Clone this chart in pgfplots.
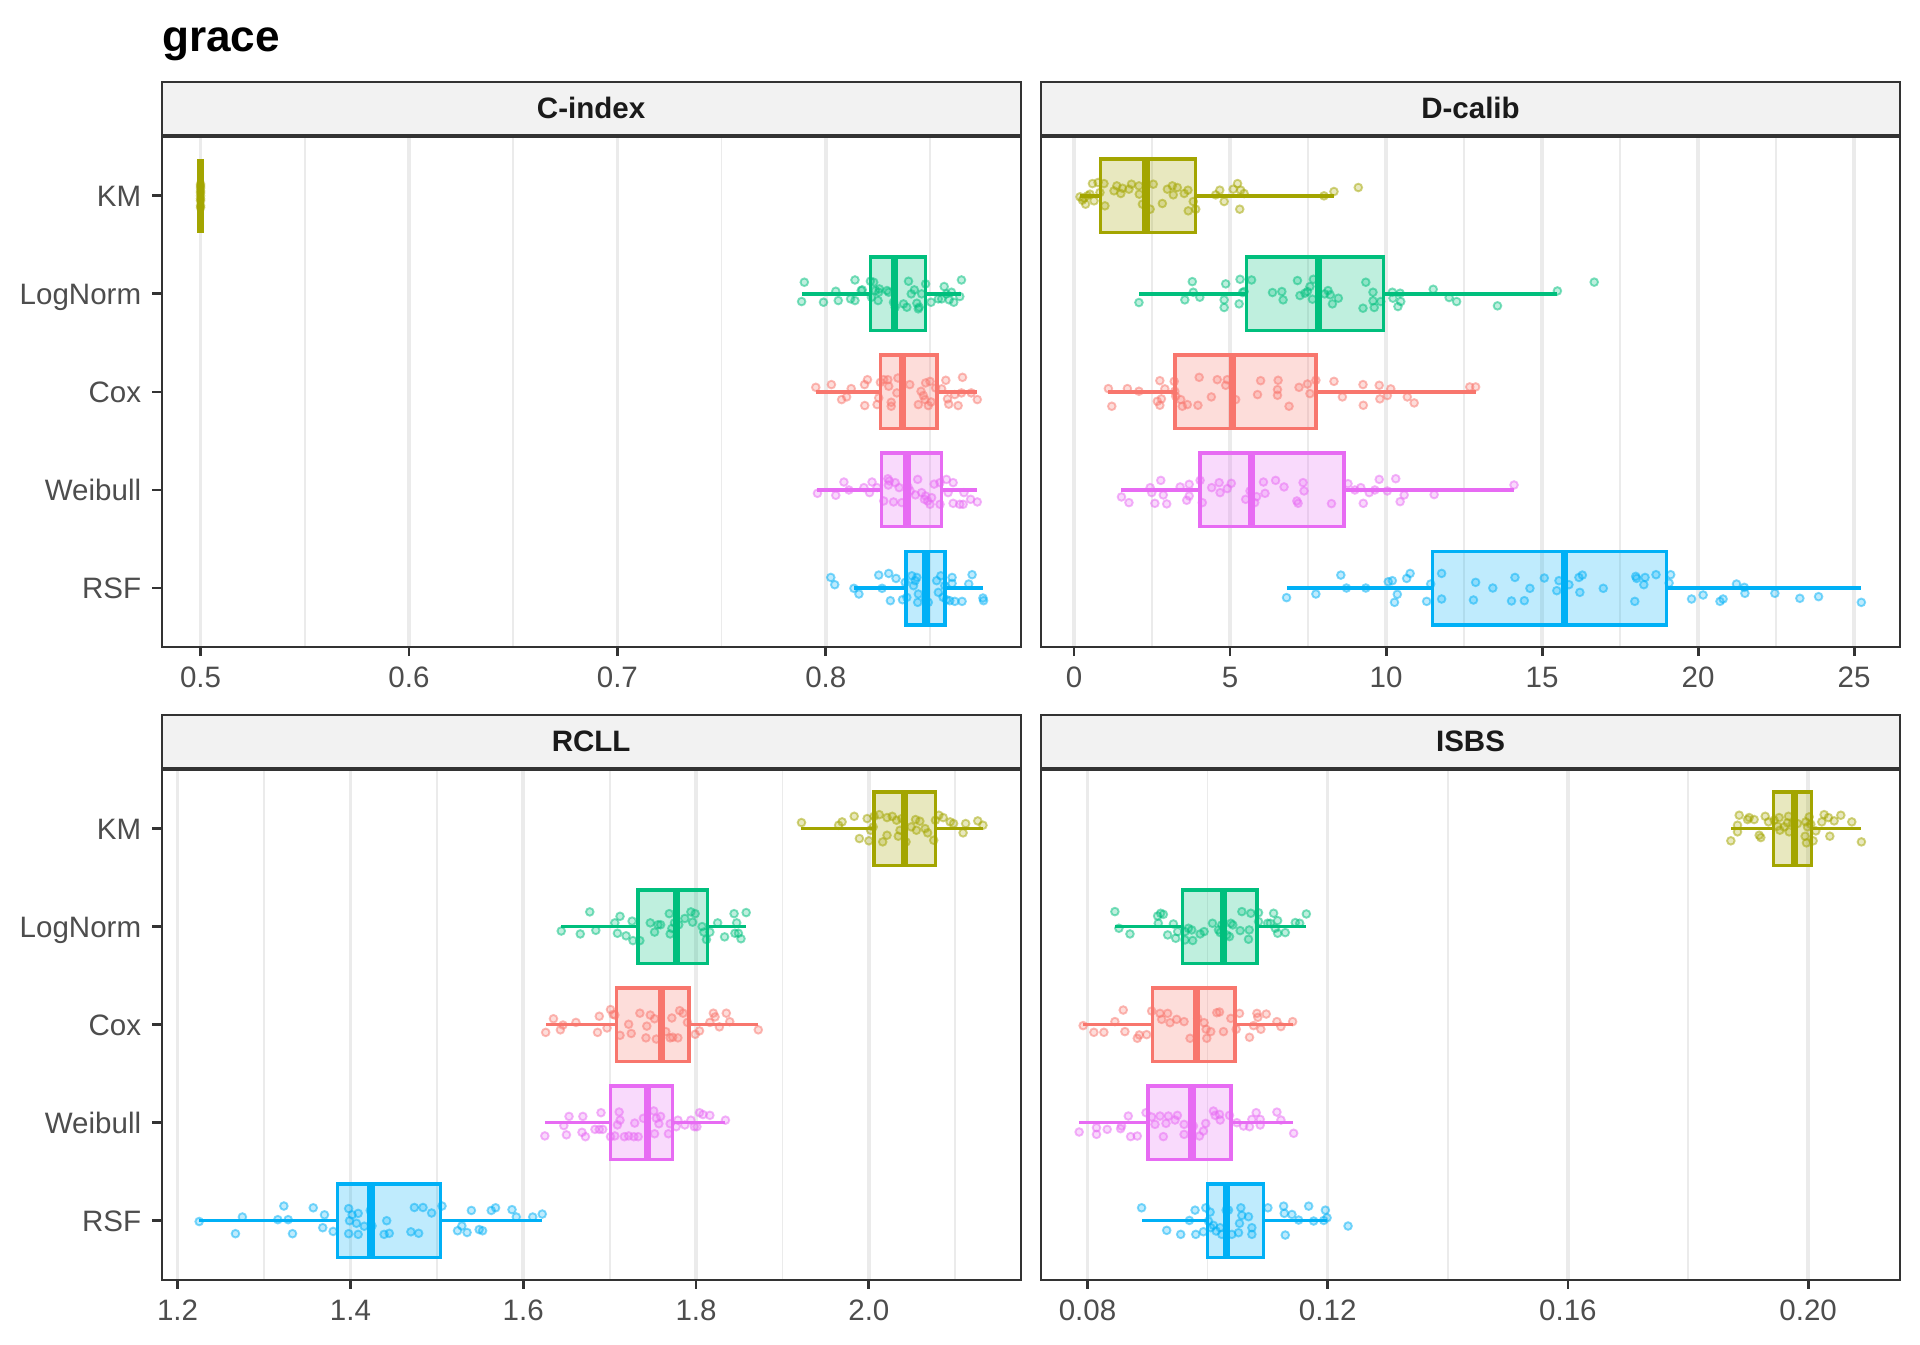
\documentclass[border=0pt]{standalone}
\usepackage{fontspec}
\setmainfont{Liberation Sans}
\usepackage{pgfplots}
\pgfplotsset{compat=1.18}
\usepgfplotslibrary{statistics}
\definecolor{cCox}{HTML}{F8766D}
\definecolor{cKM}{HTML}{A3A500}
\definecolor{cLN}{HTML}{00BF7D}
\definecolor{cRSF}{HTML}{00B0F6}
\definecolor{cWB}{HTML}{E76BF3}
\definecolor{grey10}{HTML}{1A1A1A}
\definecolor{grey20}{HTML}{333333}
\definecolor{grey30}{HTML}{4D4D4D}
\definecolor{grey92}{HTML}{EBEBEB}
\definecolor{stripbg}{HTML}{F2F2F2}
\pgfplotsset{
  panel/.style={scale only axis, width=270.6pt, height=160.6pt, ymin=0.4, ymax=5.6,
    anchor=south west,
    axis line style={draw=grey20, line width=0.6pt},
    tick align=outside, major tick length=2.9pt, minor tick length=0pt,
    tick style={draw=grey20, line width=0.9pt},
    xtick pos=left, ytick pos=left,
    xmajorgrids, xminorgrids, ymajorgrids=false,
    major grid style={draw=grey92, line width=1.1pt},
    minor grid style={draw=grey92, line width=0.55pt},
    tick label style={font=\fontsize{9.3}{11}\selectfont, text=grey30},
    yticklabel style={text height=6.65pt, text depth=0pt},
    /pgf/number format/assume math mode=true},
  leftpanel/.style={panel, ytick={1,2,3,4,5}, yticklabels={RSF,Weibull,Cox,LogNorm,KM}},
  rightpanel/.style={panel, ytick=\empty},
  pts/.style={only marks, mark=*, mark size=1.2pt,
    mark options={draw=#1, fill=#1, draw opacity=0.5, fill opacity=0.25, line width=0.6pt}},
}
\newcommand{\bx}[7]{\addplot[draw=#1, fill=#1, fill opacity=0.25, line width=1.1pt,
  boxplot prepared={lower whisker=#3, lower quartile=#4, median=#5, upper quartile=#6,
  upper whisker=#7, draw position=#2, box extend=0.75, whisker extend=0,
  every median/.style={line width=2.3pt}}] coordinates {};}
\begin{document}
\begin{tikzpicture}
\useasboundingbox (0,0) rectangle (604.8pt,423.36pt);
% ---------------- C-index ----------------
\begin{axis}[leftpanel, at={(50.9pt,219.6pt)}, xmin=0.4813, xmax=0.8935,
  xtick={0.5,0.6,0.7,0.8}, xticklabels={0.5,0.6,0.7,0.8}, minor xtick={0.55,0.65,0.75,0.85}]
\bx{cKM}{5}{0.5}{0.5}{0.5}{0.5}{0.5}
\bx{cLN}{4}{0.7884}{0.8214}{0.8329}{0.8479}{0.8651}
\bx{cCox}{3}{0.7952}{0.8262}{0.8368}{0.8533}{0.8727}
\bx{cWB}{2}{0.7960}{0.8267}{0.8389}{0.8556}{0.8727}
\bx{cRSF}{1}{0.8135}{0.8384}{0.8481}{0.8571}{0.8756}
\addplot[pts=cKM] table {
x y
0.5 5.10
0.5 5.05
0.5 5.00
0.5 4.95
0.5 4.90
0.5 5.12
0.5 4.88
0.5 5.03
0.5 4.97
0.5 5.08
};
\addplot[pts=cLN] table {
x y
0.7897 4.119
0.7884 3.922
0.7989 3.915
0.8048 4.027
0.8060 3.932
0.8119 3.949
0.8140 3.932
0.8140 4.142
0.8170 4.034
0.8175 4.041
0.8214 4.129
0.8219 3.966
0.8230 4.119
0.8238 4.034
0.8251 3.932
0.8254 4.017
0.8257 4.051
0.8294 4.034
0.8302 4.017
0.8325 3.915
0.8333 3.864
0.8373 3.898
0.8389 3.864
0.8397 4.129
0.8410 4.000
0.8425 4.041
0.8437 3.905
0.8444 3.847
0.8448 3.864
0.8460 4.000
0.8479 4.102
0.8505 3.915
0.8540 3.949
0.8556 3.949
0.8568 4.075
0.8579 4.000
0.8592 3.939
0.8603 4.017
0.8614 3.915
0.8643 3.973
0.8651 4.142
};
\addplot[pts=cCox] table {
x y
0.7952 3.047
0.8027 3.075
0.8076 2.922
0.8100 2.949
0.8122 3.034
0.8186 3.075
0.8187 2.861
0.8200 3.125
0.8246 2.871
0.8254 2.939
0.8262 3.098
0.8278 3.125
0.8298 3.125
0.8302 3.058
0.8314 2.895
0.8314 2.854
0.8341 2.990
0.8346 3.142
0.8403 3.075
0.8444 2.871
0.8457 3.007
0.8468 2.963
0.8476 2.922
0.8479 3.092
0.8492 2.861
0.8500 3.108
0.8505 2.898
0.8527 3.041
0.8556 3.031
0.8576 3.119
0.8584 2.929
0.8590 2.875
0.8619 2.973
0.8635 2.861
0.8651 2.990
0.8656 3.149
0.8698 2.990
0.8727 2.922
};
\addplot[pts=cWB] table {
x y
0.7960 1.966
0.8048 1.946
0.8087 2.081
0.8111 2.000
0.8183 2.024
0.8210 1.973
0.8222 2.081
0.8246 2.024
0.8278 1.888
0.8298 2.115
0.8305 2.092
0.8300 2.050
0.8325 1.878
0.8333 2.075
0.8352 2.024
0.8365 1.871
0.8395 2.030
0.8405 1.990
0.8430 1.950
0.8441 2.108
0.8460 1.973
0.8473 1.905
0.8479 1.939
0.8489 1.888
0.8500 1.854
0.8508 1.922
0.8520 2.060
0.8548 1.854
0.8548 2.075
0.8579 2.108
0.8587 1.973
0.8611 2.075
0.8611 1.864
0.8643 1.854
0.8659 1.854
0.8663 1.973
0.8695 1.905
0.8727 1.878
};
\addplot[pts=cRSF] table {
x y
0.8024 1.108
0.8043 1.034
0.8135 0.997
0.8159 0.939
0.8254 1.132
0.8270 0.997
0.8302 1.149
0.8310 0.871
0.8337 1.098
0.8368 0.881
0.8381 1.058
0.8389 0.905
0.8413 1.125
0.8421 1.024
0.8429 1.075
0.8437 1.108
0.8441 0.854
0.8444 0.939
0.8479 0.888
0.8492 0.854
0.8532 1.075
0.8540 0.956
0.8552 1.125
0.8563 0.905
0.8571 1.024
0.8579 0.881
0.8595 0.871
0.8606 1.108
0.8606 1.047
0.8619 0.864
0.8654 0.864
0.8686 1.041
0.8702 1.136
0.8754 0.898
0.8757 0.871
};
\end{axis}
% ---------------- D-calib ----------------
\begin{axis}[rightpanel, at={(327.9pt,219.6pt)}, xmin=-1.06, xmax=26.47,
  xtick={0,5,10,15,20,25}, xticklabels={0,5,10,15,20,25}, minor xtick={2.5,7.5,12.5,17.5,22.5}]
\bx{cKM}{5}{0.19}{0.855}{2.31}{3.90}{8.33}
\bx{cLN}{4}{2.08}{5.53}{7.83}{9.91}{15.49}
\bx{cCox}{3}{1.10}{3.24}{5.07}{7.75}{12.87}
\bx{cWB}{2}{1.52}{4.03}{5.68}{8.65}{14.10}
\bx{cRSF}{1}{6.81}{11.48}{15.71}{18.99}{25.23}
\addplot[pts=cKM] table {
x y
0.19 4.990
0.27 4.956
0.37 4.915
0.32 4.976
0.43 5.000
0.51 5.017
0.59 5.125
0.64 4.949
0.77 5.136
0.83 5.034
0.96 5.125
0.99 4.898
1.28 5.051
1.37 5.102
1.50 5.024
1.55 5.078
1.76 5.068
1.84 5.119
2.08 5.102
2.09 5.017
2.19 4.915
2.44 4.864
2.54 5.119
2.83 4.922
2.99 5.068
3.15 5.102
3.18 5.010
3.31 5.085
3.53 5.024
3.65 5.058
3.66 4.847
3.82 4.942
3.90 4.864
4.54 5.010
4.67 5.058
4.81 4.942
5.10 5.068
5.24 5.125
5.31 4.864
5.34 5.058
5.45 5.024
8.01 5.000
8.33 5.044
9.11 5.085
};
\addplot[pts=cLN] table {
x y
2.08 3.912
3.55 3.939
3.79 4.125
3.82 4.017
4.03 3.966
4.81 3.939
4.81 3.861
4.86 4.102
5.29 3.898
5.32 4.149
5.40 4.014
5.45 4.024
5.69 4.142
6.36 4.014
6.66 4.024
6.70 3.939
7.16 4.136
7.24 3.983
7.40 4.007
7.48 4.024
7.56 4.075
7.64 3.946
7.67 4.149
8.03 4.000
8.14 4.034
8.21 3.990
8.28 3.898
8.47 3.956
9.35 4.119
9.26 3.854
9.58 4.017
9.58 3.929
9.62 3.861
9.83 3.922
10.20 4.017
10.22 3.956
10.38 3.871
10.45 4.007
10.47 3.922
11.51 4.047
12.02 3.963
12.26 3.922
13.57 3.878
15.49 4.030
16.67 4.120
};
\addplot[pts=cCox] table {
x y
1.10 3.034
1.21 2.854
1.71 3.034
2.08 3.007
2.67 2.905
2.75 2.864
2.75 3.115
2.80 2.929
2.91 3.031
3.21 3.108
3.23 3.007
3.26 2.956
3.42 2.922
3.47 2.854
3.63 2.871
3.97 2.864
4.01 3.149
4.40 2.949
4.59 3.125
4.86 3.068
4.91 3.125
5.18 2.922
5.88 2.973
5.98 3.115
6.52 2.966
6.52 3.024
6.54 3.119
6.89 2.854
7.21 3.047
7.48 3.081
7.56 2.983
7.75 3.119
8.33 3.108
8.60 2.949
9.26 3.075
9.27 2.864
9.78 3.068
9.80 2.929
10.04 2.963
10.15 3.031
10.68 2.949
10.90 2.888
12.68 3.051
12.87 3.051
};
\addplot[pts=cWB] table {
x y
1.52 1.929
1.76 1.871
2.44 2.024
2.49 1.973
2.59 1.864
2.78 2.098
2.86 1.949
2.97 1.858
3.40 2.031
3.61 1.895
3.69 2.058
3.69 1.939
4.04 2.098
4.11 1.871
4.41 2.024
4.65 2.075
4.68 1.973
4.91 2.014
5.04 2.068
5.50 1.905
5.64 1.990
5.79 1.871
5.85 1.932
6.07 2.081
6.12 1.966
6.46 2.098
6.73 2.031
7.14 1.888
7.18 1.864
7.34 2.075
7.37 1.990
8.25 1.861
8.78 2.064
9.00 2.000
9.19 2.024
9.27 1.864
9.46 1.973
9.64 2.000
9.78 2.108
10.04 1.990
10.31 2.115
10.45 1.881
10.58 1.949
11.54 1.953
14.10 2.051
};
\addplot[pts=cRSF] table {
x y
6.81 0.902
7.75 0.939
8.55 1.132
8.73 1.000
9.35 1.000
10.07 1.064
10.20 1.075
10.27 0.854
10.36 0.936
10.66 1.098
10.77 1.149
11.30 0.864
11.43 1.041
11.78 1.149
11.78 0.888
12.87 1.058
12.80 0.878
13.42 1.000
14.02 0.868
14.13 1.108
14.43 0.871
14.61 0.997
15.07 1.102
15.47 0.973
15.54 1.075
15.86 1.034
16.18 1.108
16.29 1.132
16.21 0.956
16.96 0.997
17.97 0.864
18.00 1.119
18.03 1.098
18.30 1.108
18.26 1.034
18.65 1.136
19.12 1.136
19.07 1.051
19.79 0.888
20.16 0.929
20.70 0.864
20.80 0.888
21.23 1.041
21.48 1.007
21.50 0.946
22.46 0.946
23.26 0.895
23.86 0.912
25.23 0.854
};
\end{axis}
% ---------------- RCLL ----------------
\begin{axis}[leftpanel, at={(50.9pt,20.3pt)}, xmin=1.1815, xmax=2.1756,
  xtick={1.2,1.4,1.6,1.8,2.0}, xticklabels={1.2,1.4,1.6,1.8,2.0}, minor xtick={1.3,1.5,1.7,1.9,2.1}]
\bx{cKM}{5}{1.922}{2.006}{2.041}{2.077}{2.132}
\bx{cLN}{4}{1.644}{1.733}{1.777}{1.813}{1.858}
\bx{cCox}{3}{1.626}{1.708}{1.760}{1.792}{1.872}
\bx{cWB}{2}{1.625}{1.701}{1.744}{1.773}{1.834}
\bx{cRSF}{1}{1.225}{1.385}{1.424}{1.504}{1.622}
\addplot[pts=cKM] table {
x y
1.922 5.061
1.965 5.034
1.969 5.068
1.983 5.125
1.989 4.898
1.998 5.102
2.000 4.875
2.002 4.983
2.005 5.017
2.006 5.125
2.012 5.142
2.016 4.864
2.021 4.932
2.021 5.112
2.027 5.125
2.032 5.085
2.034 4.922
2.036 4.983
2.038 5.102
2.043 4.864
2.049 5.017
2.054 5.092
2.055 4.983
2.059 5.075
2.065 5.000
2.068 4.956
2.075 4.881
2.077 5.085
2.081 5.136
2.086 5.112
2.094 5.068
2.098 5.051
2.109 4.956
2.112 5.051
2.126 5.078
2.132 5.034
};
\addplot[pts=cLN] table {
x y
1.644 3.955
1.666 3.925
1.677 4.150
1.684 3.962
1.706 4.038
1.709 3.932
1.712 4.105
1.719 3.906
1.726 4.056
1.727 3.857
1.735 3.857
1.747 4.038
1.752 3.944
1.756 4.019
1.759 4.019
1.769 4.132
1.770 3.925
1.772 3.981
1.775 4.038
1.780 4.019
1.787 4.083
1.794 4.150
1.796 4.045
1.799 4.132
1.807 4.000
1.809 3.944
1.812 3.868
1.816 3.944
1.825 4.038
1.833 3.895
1.844 4.132
1.845 3.932
1.847 4.038
1.849 3.932
1.852 3.876
1.858 4.143
};
\addplot[pts=cCox] table {
x y
1.626 2.921
1.635 3.060
1.643 2.947
1.646 2.996
1.661 3.023
1.686 2.921
1.688 3.086
1.697 2.966
1.701 3.154
1.704 3.105
1.706 3.098
1.712 2.891
1.722 3.004
1.725 2.910
1.735 3.117
1.742 2.865
1.743 2.985
1.747 3.098
1.752 3.060
1.754 2.853
1.765 2.929
1.770 2.865
1.773 2.872
1.772 3.068
1.779 2.865
1.781 3.143
1.785 3.117
1.790 3.023
1.799 2.902
1.804 2.936
1.816 3.023
1.820 3.117
1.822 3.079
1.827 2.977
1.835 3.117
1.839 3.030
1.872 2.947
};
\addplot[pts=cWB] table {
x y
1.625 1.865
1.647 1.970
1.650 1.876
1.653 2.064
1.668 1.902
1.669 2.064
1.672 1.857
1.683 1.932
1.688 1.932
1.690 2.102
1.692 1.932
1.701 1.857
1.706 1.865
1.709 1.977
1.711 2.109
1.712 2.026
1.717 1.857
1.722 1.865
1.728 1.857
1.729 1.996
1.733 1.857
1.739 2.045
1.751 2.120
1.752 1.887
1.754 2.045
1.757 1.989
1.759 2.064
1.768 1.887
1.770 1.989
1.777 1.959
1.779 2.026
1.787 1.977
1.794 2.026
1.798 1.959
1.801 1.959
1.804 2.102
1.808 2.083
1.816 2.075
1.834 2.026
};
\addplot[pts=cRSF] table {
x y
1.225 0.992
1.267 0.868
1.275 1.038
1.316 1.011
1.323 1.150
1.328 1.011
1.333 0.868
1.357 1.132
1.368 0.929
1.370 1.060
1.380 0.891
1.398 1.124
1.399 1.000
1.398 0.868
1.402 1.060
1.407 0.974
1.409 0.861
1.409 1.075
1.416 0.944
1.423 1.105
1.425 0.947
1.439 0.861
1.442 1.000
1.445 0.872
1.470 0.887
1.474 1.135
1.479 0.872
1.484 1.135
1.494 1.079
1.506 1.150
1.524 0.898
1.529 0.947
1.535 0.880
1.540 1.105
1.549 0.910
1.553 0.898
1.563 1.105
1.568 1.132
1.587 1.113
1.592 1.038
1.611 1.038
1.622 1.068
};
\end{axis}
% ---------------- ISBS ----------------
\begin{axis}[rightpanel, at={(327.9pt,20.3pt)}, xmin=0.07225, xmax=0.2153,
  xtick={0.08,0.12,0.16,0.20}, xticklabels={0.08,0.12,0.16,0.20}, minor xtick={0.10,0.14,0.18}]
\bx{cKM}{5}{0.1871}{0.1942}{0.1977}{0.2006}{0.2088}
\bx{cLN}{4}{0.0846}{0.0958}{0.1026}{0.1082}{0.1164}
\bx{cCox}{3}{0.0793}{0.0908}{0.0982}{0.1046}{0.1142}
\bx{cWB}{2}{0.0786}{0.0901}{0.0974}{0.1039}{0.1143}
\bx{cRSF}{1}{0.0890}{0.1000}{0.1032}{0.1093}{0.1199}
\addplot[pts=cKM] table {
x y
0.18713 4.875
0.18824 4.966
0.18824 5.034
0.18852 5.136
0.18991 5.092
0.19018 5.112
0.19101 5.092
0.19185 4.932
0.19212 4.908
0.19285 5.125
0.19340 5.068
0.19434 5.085
0.19490 5.024
0.19517 5.112
0.19529 4.983
0.19601 5.017
0.19656 5.058
0.19673 5.125
0.19684 4.966
0.19739 5.051
0.19823 5.051
0.19950 4.922
0.19961 5.068
0.19972 4.854
0.19989 5.017
0.20017 5.119
0.20044 5.044
0.20083 4.875
0.20128 4.976
0.20227 5.068
0.20266 5.142
0.20338 5.112
0.20361 4.922
0.20433 5.078
0.20544 5.136
0.20727 5.068
0.20887 4.864
};
\addplot[pts=cLN] table {
x y
0.08456 4.153
0.08523 3.983
0.08707 3.925
0.09168 4.108
0.09218 4.136
0.09263 4.125
0.09179 4.034
0.09335 3.915
0.09430 4.027
0.09469 3.881
0.09502 3.949
0.09624 3.864
0.09624 3.949
0.09680 3.983
0.09752 3.858
0.09736 3.966
0.09875 3.925
0.09942 3.949
0.10081 4.034
0.10181 3.966
0.10209 3.939
0.10236 4.017
0.10320 3.915
0.10364 3.898
0.10387 4.034
0.10420 4.017
0.10542 3.959
0.10570 4.153
0.10681 3.871
0.10693 3.966
0.10720 4.136
0.10848 4.142
0.10848 4.051
0.10999 4.034
0.11043 4.034
0.11099 4.136
0.11127 3.983
0.11166 3.932
0.11166 4.061
0.11293 3.939
0.11460 4.041
0.11533 4.034
0.11644 4.129
};
\addplot[pts=cCox] table {
x y
0.07928 2.990
0.08106 2.922
0.08273 2.922
0.08456 3.031
0.08595 3.149
0.08623 2.929
0.08829 2.861
0.08862 2.895
0.08985 2.898
0.09068 3.139
0.09207 3.115
0.09235 3.054
0.09335 3.115
0.09374 3.020
0.09485 3.054
0.09608 3.031
0.09708 2.861
0.09836 3.064
0.09942 3.020
0.09975 2.953
0.09986 2.861
0.10053 2.929
0.10153 3.122
0.10198 3.129
0.10264 2.929
0.10387 3.064
0.10476 2.953
0.10531 3.115
0.10698 2.871
0.10765 2.990
0.10821 3.115
0.10837 3.075
0.10887 2.953
0.10976 3.108
0.11154 3.031
0.11221 2.980
0.11416 3.031
};
\addplot[pts=cWB] table {
x y
0.07861 1.905
0.08150 1.949
0.08150 1.881
0.08328 1.932
0.08551 1.939
0.08567 1.966
0.08679 2.068
0.08718 1.858
0.08829 1.864
0.08974 2.102
0.09068 2.058
0.09124 1.983
0.09207 2.068
0.09263 1.858
0.09307 1.993
0.09346 2.068
0.09458 2.027
0.09497 2.075
0.09608 1.983
0.09608 1.881
0.09764 1.966
0.09864 1.864
0.09930 1.915
0.09969 1.993
0.10097 2.119
0.10125 2.075
0.10198 2.085
0.10209 2.027
0.10364 2.075
0.10487 2.000
0.10598 1.966
0.10698 1.959
0.10737 2.034
0.10809 2.102
0.10876 1.976
0.10876 2.034
0.11154 2.108
0.11221 2.027
0.11433 1.892
};
\addplot[pts=cRSF] table {
x y
0.08901 1.132
0.09319 0.902
0.09552 0.861
0.09697 1.003
0.09791 1.108
0.09803 0.861
0.09930 0.888
0.09969 1.132
0.10014 0.997
0.10042 1.088
0.10053 0.929
0.10097 0.953
0.10142 0.895
0.10209 0.929
0.10236 0.861
0.10309 1.108
0.10348 1.108
0.10403 0.861
0.10515 0.878
0.10531 0.973
0.10554 1.132
0.10570 1.054
0.10681 1.041
0.10737 0.929
0.10737 0.861
0.11004 1.132
0.11266 1.149
0.11293 0.854
0.11277 1.075
0.11404 1.064
0.11516 1.007
0.11683 1.149
0.11766 0.997
0.11933 1.003
0.11961 1.108
0.11989 1.030
0.12339 0.946
};
\end{axis}
% ---------------- strips and title ----------------
\draw[fill=stripbg, draw=grey20, line width=0.6pt] (50.9pt,380.75pt) rectangle (321.5pt,397.6pt);
\draw[fill=stripbg, draw=grey20, line width=0.6pt] (327.9pt,380.75pt) rectangle (598.5pt,397.6pt);
\draw[fill=stripbg, draw=grey20, line width=0.6pt] (50.9pt,181.45pt) rectangle (321.5pt,198.2pt);
\draw[fill=stripbg, draw=grey20, line width=0.6pt] (327.9pt,181.45pt) rectangle (598.5pt,198.2pt);
\begin{scope}[every node/.style={font=\fontsize{9.3}{11}\selectfont\bfseries, text=grey10, inner sep=0pt}]
\node at (186.2pt,389.2pt) {C-index};
\node at (463.2pt,389.2pt) {D-calib};
\node at (186.2pt,189.85pt) {RCLL};
\node at (463.2pt,189.85pt) {ISBS};
\end{scope}
\node[anchor=base west, inner sep=0pt, font=\fontsize{13.9}{16}\selectfont\bfseries] at (50.9pt,407.2pt) {grace};
\end{tikzpicture}
\end{document}
